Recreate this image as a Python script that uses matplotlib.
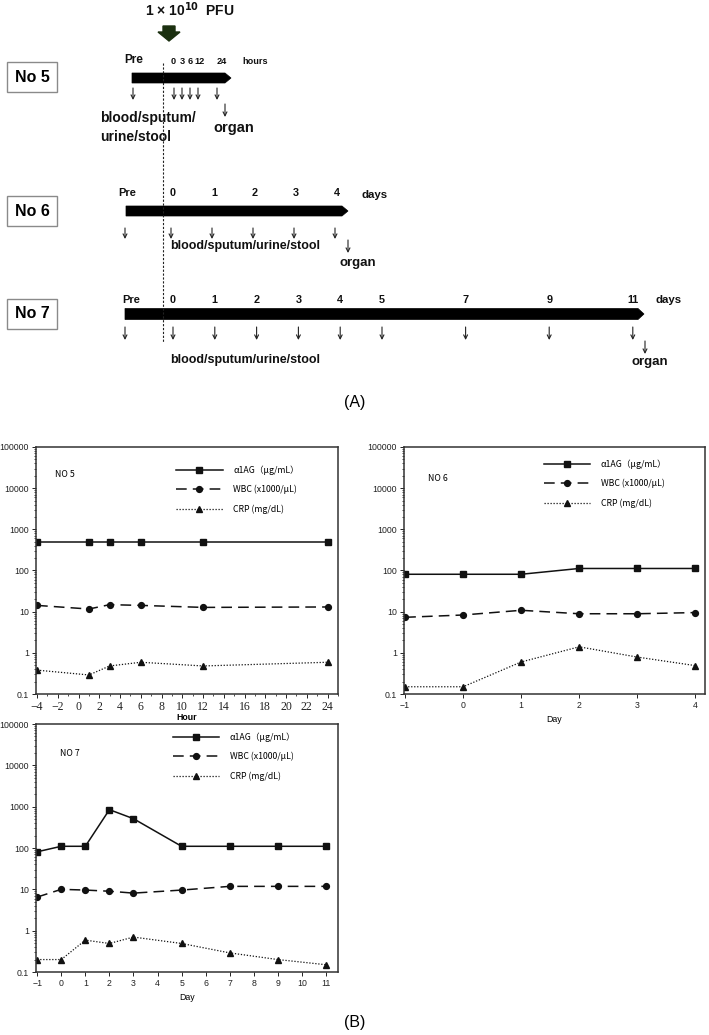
import numpy as np
import matplotlib.pyplot as plt
from matplotlib.patches import Polygon, Rectangle
from matplotlib.ticker import LogLocator, NullFormatter, MultipleLocator

# ---- data ----
no5_hour = [-4, 1, 3, 6, 12, 24]
no5_a1ag = [500, 500, 500, 500, 500, 500]
no5_wbc = [14.2, 11.6, 14.8, 14.2, 12.7, 13]
no5_crp = [0.38, 0.29, 0.48, 0.59, 0.48, 0.59]

no6_day = [-1, 0, 1, 2, 3, 4]
no6_a1ag = [81, 81, 81, 112, 112, 112]
no6_wbc = [7.3, 8.3, 10.8, 8.9, 8.9, 9.5]
no6_crp = [0.15, 0.15, 0.6, 1.4, 0.79, 0.49]

no7_day = [-1, 0, 1, 2, 3, 5, 7, 9, 11]
no7_a1ag = [81, 110, 110, 846, 512, 110, 110, 110, 110]
no7_wbc = [6.5, 10, 9.6, 9.0, 8.1, 9.6, 11.8, 11.8, 11.8]
no7_crp = [0.2, 0.2, 0.59, 0.49, 0.70, 0.49, 0.29, 0.2, 0.15]

labels = ['α1AG（μg/mL）', 'WBC (x1000/μL)', 'CRP (mg/dL)']
yticks = [0.1, 1, 10, 100, 1000, 10000, 100000]
yticklabels = ['0.1', '1', '10', '100', '1000', '10000', '100000']

# schematic time points
no5_hours = ['0', '3', '6', '12', '24']
no6_days = [0, 1, 2, 3, 4]
no7_days = [0, 1, 2, 3, 4, 5, 7, 9, 11]

W, H = 709, 1035
fig = plt.figure(figsize=(W / 100, H / 100), dpi=100)
plt.rcParams['font.family'] = ['Liberation Sans', 'DejaVu Sans']

# ================= (A) schematic, pixel coordinates =================
sk = fig.add_axes([0, 0, 1, 1])
sk.set_xlim(0, W)
sk.set_ylim(H, 0)
sk.axis('off')
sk.set_zorder(-1)

def bar(x0, x1, yc, h=10, head=6):
    pts = [(x0, yc - h / 2), (x1 - head, yc - h / 2), (x1, yc),
           (x1 - head, yc + h / 2), (x0, yc + h / 2)]
    sk.add_patch(Polygon(pts, closed=True, fc='black', ec='black', lw=0.5))

def down(x, y0, y1):
    sk.annotate('', xy=(x, y1), xytext=(x, y0),
                arrowprops=dict(arrowstyle='->', lw=0.8, color='#222222',
                                shrinkA=0, shrinkB=0, mutation_scale=7))

def box(label, yc):
    sk.add_patch(Rectangle((7, yc - 15), 50, 30, fc='white', ec='#8a8a8a', lw=1))
    sk.text(32, yc, label, ha='center', va='center', fontsize=11.5, fontweight='bold')

bold = dict(fontweight='bold', color='#111111')

# dose
sk.text(190, 10, '1 × 10$^{\\mathbf{10}}$  PFU', ha='center', va='center', fontsize=10, **bold)
sk.add_patch(Polygon([(163, 26), (175, 26), (175, 32), (180, 32), (169, 41),
                      (158, 32), (163, 32)], closed=True, fc='#1b3010', ec='#1b3010'))
sk.plot([163, 163], [63, 342], color='#222222', lw=0.8, ls=(0, (2, 1.5)))

# No 5
box('No 5', 77)
sk.text(134, 60, 'Pre', ha='center', va='center', fontsize=8.5, **bold)
bar(132, 231, 78)
for lab, xx in zip(no5_hours, [173, 182, 190, 200, 222]):
    sk.text(xx, 62, lab, ha='center', va='center', fontsize=6.6, **bold)
sk.text(242, 62, 'hours', ha='left', va='center', fontsize=6.6, **bold)
for xx in [133, 174, 182, 190, 198, 217]:
    down(xx, 88, 100)
down(225, 104, 117)
sk.text(100, 118, 'blood/sputum/', ha='left', va='center', fontsize=10, **bold)
sk.text(100, 137, 'urine/stool', ha='left', va='center', fontsize=10, **bold)
sk.text(213, 128, 'organ', ha='left', va='center', fontsize=10.5, **bold)

# No 6
x6 = lambda d: 173 + 41 * d
box('No 6', 211)
sk.text(127, 193, 'Pre', ha='center', va='center', fontsize=8, **bold)
bar(126, 348, 211)
for d in no6_days:
    sk.text(x6(d), 193, str(d), ha='center', va='center', fontsize=7.8, **bold)
    down(x6(d) - 2, 228, 239)
sk.text(361, 195, 'days', ha='left', va='center', fontsize=8.2, **bold)
down(125, 228, 239)
down(348, 240, 253)
sk.text(170, 246, 'blood/sputum/urine/stool', ha='left', va='center', fontsize=9, **bold)
sk.text(340, 263, 'organ', ha='left', va='center', fontsize=9.5, **bold)

# No 7
x7 = lambda d: 173 + 41.8 * d
box('No 7', 314)
sk.text(131, 300, 'Pre', ha='center', va='center', fontsize=8, **bold)
bar(125, 644, 314, h=11)
for d in no7_days:
    sk.text(x7(d), 300, str(d), ha='center', va='center', fontsize=7.8, **bold)
    down(x7(d), 327, 340)
sk.text(656, 300, 'days', ha='left', va='center', fontsize=8.2, **bold)
down(125, 327, 340)
down(645, 341, 354)
sk.text(170, 360, 'blood/sputum/urine/stool', ha='left', va='center', fontsize=9, **bold)
sk.text(632, 362, 'organ', ha='left', va='center', fontsize=9.5, **bold)

sk.text(355, 402, '(A)', ha='center', va='center', fontsize=11.5)
sk.text(355, 1022, '(B)', ha='center', va='center', fontsize=11.5)

# ================= (B) time courses =================
def panel(rect, x, a1ag, wbc, crp, name, name_pos, leg_pos):
    ax = fig.add_axes(rect)
    ax.plot(x, a1ag, color='#111111', lw=1.1, marker='s', ms=4.2, label=labels[0])
    ax.plot(x, wbc, color='#111111', lw=1.1, ls=(0, (7, 4)), marker='o', ms=4.2, label=labels[1])
    ax.plot(x, crp, color='#111111', lw=0.9, ls=(0, (1, 1.4)), marker='^', ms=4.5, label=labels[2])
    ax.set_yscale('log')
    ax.set_ylim(0.1, 100000)
    ax.set_yticks(yticks)
    ax.set_yticklabels(yticklabels)
    ax.yaxis.set_minor_locator(LogLocator(base=10, subs=np.arange(2, 10), numticks=20))
    ax.yaxis.set_minor_formatter(NullFormatter())
    ax.tick_params(axis='both', which='major', direction='out', length=3, width=0.7,
                   labelsize=6.3, colors='#222222', pad=2)
    ax.tick_params(axis='both', which='minor', direction='out', length=1.6, width=0.5)
    ax.tick_params(right=False, top=False)
    for s in ax.spines.values():
        s.set_linewidth(1.1)
        s.set_color('#333333')
    ax.text(name_pos[0], name_pos[1], name, transform=ax.transAxes, fontsize=6.3,
            ha='left', va='center', family=['Noto Sans CJK JP', 'DejaVu Sans'])
    ax.legend(loc='upper left', bbox_to_anchor=leg_pos, frameon=False,
              handlelength=5.3, handletextpad=1.2,
              labelspacing=1.15, borderpad=0, borderaxespad=0,
              prop={'family': ['Noto Sans CJK JP', 'DejaVu Sans'], 'size': 6.3})
    return ax

ax5 = panel([36 / W, 1 - 694 / H, 302 / W, 247 / H], no5_hour, no5_a1ag, no5_wbc, no5_crp,
            'NO 5', (0.063, 0.887), (0.464, 0.925))
ax5.set_xlim(-4.1, 25)
ax5.set_xticks(np.arange(-4, 25, 2))
ax5.xaxis.set_minor_locator(MultipleLocator(1))
for t in ax5.get_xticklabels():
    t.set_family('Liberation Serif')
    t.set_fontsize(8.5)
ax5.set_xlabel('Hour', fontsize=6.3, labelpad=0, fontweight='bold')

ax6 = panel([404 / W, 1 - 694 / H, 301 / W, 247 / H], no6_day, no6_a1ag, no6_wbc, no6_crp,
            'NO 6', (0.08, 0.874), (0.465, 0.95))
ax6.set_xlim(-1.02, 4.17)
ax6.set_xticks(no6_day)
ax6.set_xlabel('Day', fontsize=6.3, labelpad=4)

ax7 = panel([36 / W, 1 - 972 / H, 302 / W, 248 / H], no7_day, no7_a1ag, no7_wbc, no7_crp,
            'NO 7', (0.079, 0.883), (0.454, 0.966))
ax7.set_xlim(-1.05, 11.5)
ax7.set_xticks(np.arange(-1, 12, 1))
ax7.set_xlabel('Day', fontsize=6.3, labelpad=4)

fig.savefig('out.png', dpi=100)
